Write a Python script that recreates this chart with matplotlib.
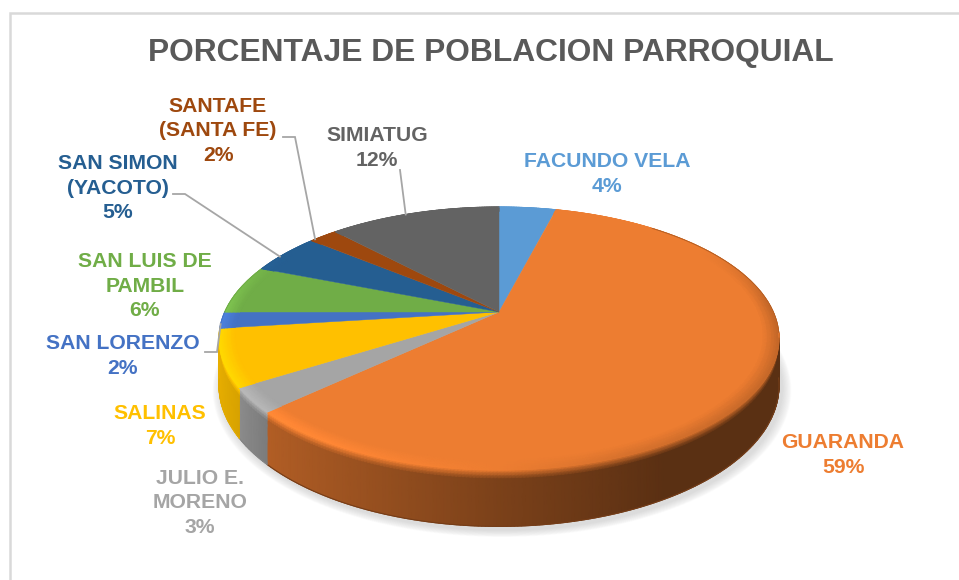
import numpy as np
import matplotlib
matplotlib.use("Agg")
import matplotlib.pyplot as plt

plt.rcParams['font.family'] = ['Liberation Sans', 'DejaVu Sans']

# --- datos ---
parroquias = ["FACUNDO VELA", "GUARANDA", "JULIO E.\nMORENO", "SALINAS", "SAN LORENZO",
              "SAN LUIS DE\nPAMBIL", "SAN SIMON\n(YACOTO)", "SANTAFE\n(SANTA FE)", "SIMIATUG"]
porcentajes = [4, 59, 3, 7, 2, 6, 5, 2, 12]
colores = ["#5B9BD5", "#ED7D31", "#A5A5A5", "#FFC000", "#4472C4",
           "#70AD47", "#255E91", "#9E480E", "#636363"]

# posicion del centro de cada etiqueta (pixeles)
etiqueta_x = [607, 843, 200, 160, 123, 145, 118, 218, 377]
etiqueta_y = [174, 455, 503, 426, 356, 286, 188, 131, 148]

# lineas guia: indice, codo de la linea y punto relativo dentro del sector
guias = [(4, [(205, 352), (217, 352)], 0.25),
         (6, [(173, 194), (185, 194)], 0.40),
         (7, [(283, 137), (295, 137)], 0.15),
         (8, [(400, 170)], 0.45)]

# --- geometria del pastel en perspectiva ---
CX, CY = 499, 312
R, B, K = 274.3, 126.2, 0.2016
GROSOR = 45


def proyecta(theta, radio=1.0, z=0.0):
    u, v = radio * np.sin(theta), radio * np.cos(theta)
    s = 1 / (1 + K * v)
    return CX + R * u * s, CY - B * v * s + z * s


def rgb(c):
    return np.array(matplotlib.colors.to_rgb(c))


def sombra_lado(theta):
    return np.interp(np.sin(theta), [-1, -0.85, -0.73, 0, 0.5, 1], [0.92, 0.85, 0.75, 0.52, 0.38, 0.38])


def brillo_borde(theta):
    return np.interp(np.sin(theta), [-1, -0.6, 0, 0.4, 1], [1.14, 1.1, 1.0, 0.9, 0.82])


fig = plt.figure(figsize=(9.59, 5.8), dpi=100)
ax = fig.add_axes([0, 0, 1, 1])
ax.set_xlim(0, 959)
ax.set_ylim(580, 0)
ax.axis("off")

# marco del grafico
ax.plot([9.5, 9.5, 959], [580, 13, 13], color="#D9D9D9", lw=1.8, solid_joinstyle="miter")

ax.text(491, 53, "PORCENTAJE DE POBLACION PARROQUIAL", color="#595959", fontsize=22.9,
        fontweight="bold", ha="center", va="center")

# limites de los sectores
fracciones = np.cumsum([0] + porcentajes) / sum(porcentajes)
limites = fracciones * 2 * np.pi

# sombra difusa debajo del pastel
ang = np.linspace(0, 2 * np.pi, 240)
for i in range(16):
    esc = 1.0 + 0.002 * (16 - i)
    sx, sy = proyecta(ang, esc, GROSOR + 3)
    ax.fill(sx + 3, sy, color="#909090", alpha=0.018, lw=0, zorder=1)

# lado del pastel: solo la parte visible, con degradado suave
capas = np.array([0, 0.05, 0.1, 0.16, 0.25, 0.5, 1.0])
for k, col in enumerate(colores):
    ini, fin = limites[k], limites[k + 1]
    # la parte de atras queda tapada por la cara superior
    ts = np.linspace(ini, fin, max(6, porcentajes[k] * 6))
    ts = ts[np.cos(ts) < -0.15]
    if len(ts) < 2:
        continue
    X = np.zeros((len(capas), len(ts)))
    Y = np.zeros_like(X)
    C = np.zeros(X.shape + (3,))
    for j, z in enumerate(capas):
        X[j], Y[j] = proyecta(ts, 1, z * GROSOR)
        mezcla = min(1, z / 0.16)
        for i, t in enumerate(ts):
            C[j, i] = np.clip(rgb(col) * (brillo_borde(t) * (1 - mezcla) + sombra_lado(t) * mezcla), 0, 1)
    ax.pcolormesh(X, Y, C, shading="gouraud", zorder=2)
    # suaviza el contorno inferior
    bx, by = proyecta(ts, 1, GROSOR)
    ax.plot(bx, by, color=np.clip(rgb(col) * np.mean(sombra_lado(ts)), 0, 1), lw=0.8, zorder=2)

# cara superior de cada sector
for k, col in enumerate(colores):
    ts = np.linspace(limites[k], limites[k + 1], max(8, porcentajes[k] * 6))
    px, py = proyecta(ts)
    ax.fill(np.r_[CX, px], np.r_[CY, py], color=col, lw=0.3, zorder=3)

# bisel del borde: del color del sector a un tono mas claro u oscuro
radios = np.array([0.945, 0.96, 0.975, 0.985, 0.993, 1.0])
for k, col in enumerate(colores):
    ts = np.linspace(limites[k], limites[k + 1], max(6, porcentajes[k] * 6))
    peso_frente = np.clip((0.55 - np.cos(ts)) / 0.5, 0, 1)
    X = np.zeros((len(radios), len(ts)))
    Y = np.zeros_like(X)
    C = np.zeros(X.shape + (3,))
    for j, r in enumerate(radios):
        X[j], Y[j] = proyecta(ts, r)
        t = (r - radios[0]) / (radios[-1] - radios[0])
        for i in range(len(ts)):
            f = 1 + (brillo_borde(ts[i]) - 1) * t * peso_frente[i]
            C[j, i] = np.clip(rgb(col) * f, 0, 1)
    ax.pcolormesh(X, Y, C, shading="gouraud", zorder=4)

# contorno de atras para suavizar la cara superior
for k, col in enumerate(colores):
    ts = np.linspace(limites[k], limites[k + 1], max(8, porcentajes[k] * 6))
    ts = ts[np.cos(ts) > -0.2]
    if len(ts) > 1:
        px, py = proyecta(ts)
        ax.plot(px, py, color=col, lw=0.7, zorder=4)

# borde oscuro fino atras a la derecha
ts = np.linspace(0.7, np.pi * 0.55, 80)
px, py = proyecta(ts)
ax.plot(px, py, color="#5F3312", lw=0.6, alpha=0.45, zorder=5)

# lineas guia
for idx, codo, pos in guias:
    t = limites[idx] + pos * (limites[idx + 1] - limites[idx])
    fx, fy = proyecta(t, 1.0)
    xs = [p[0] for p in codo] + [fx]
    ys = [p[1] for p in codo] + [fy]
    ax.plot(xs, ys, color="#A6A6A6", lw=1.3, zorder=6, solid_joinstyle="miter")

# etiquetas
for k, nombre in enumerate(parroquias):
    ax.text(etiqueta_x[k], etiqueta_y[k], f"{nombre}\n{porcentajes[k]}%", color=colores[k],
            fontsize=15.2, fontweight="bold", ha="center", va="center", linespacing=1.38, zorder=7)

fig.savefig("out.png", dpi=100)
